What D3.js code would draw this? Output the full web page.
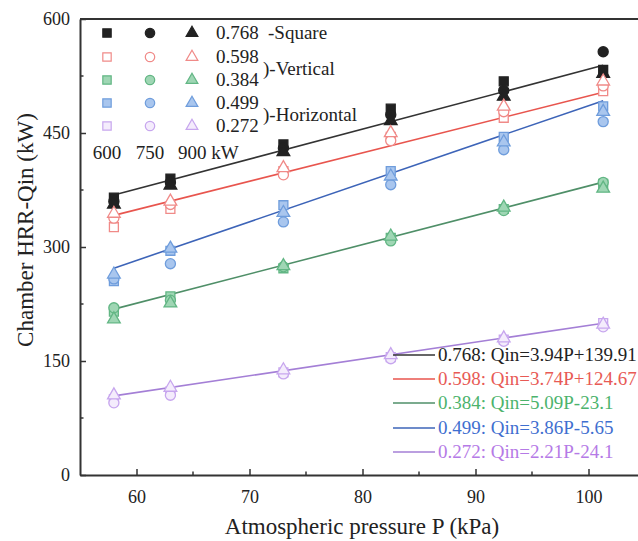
<!DOCTYPE html>
<html>
<head>
<meta charset="utf-8">
<script src="https://cdn.jsdelivr.net/npm/d3@7"></script>
<style>
  body { margin: 0; background: #fff; }
  svg { display: block; }
  text { font-family: "Liberation Serif", "Times New Roman", serif; }
</style>
</head>
<body>
<div id="chart"></div>
<script>
// Atmospheric pressures (kPa) of the six test conditions
var pressures = [58, 63, 73, 82.5, 92.5, 101.3];

// Chamber HRR values (kW) per opening ratio, for the 600 / 750 / 900 kW fires
var q768_600 = [365, 390, 435, 482, 518, 533];
var q768_750 = [360, 385, 430, 474, 506, 557];
var q768_900 = [356, 381, 425, 466, 498, 528];

var q598_600 = [326, 350, 400, 445, 470, 505];
var q598_750 = [338, 356, 395, 440, 478, 512];
var q598_900 = [344, 360, 404, 450, 485, 518];

var q384_600 = [215, 235, 272, 312, 350, 383];
var q384_750 = [220, 230, 274, 308, 348, 385];
var q384_900 = [205, 226, 275, 314, 352, 377];

var q499_600 = [255, 295, 355, 400, 445, 485];
var q499_750 = [258, 278, 333, 382, 428, 465];
var q499_900 = [264, 298, 345, 393, 438, 478];

var q272_600 = [100, 110, 135, 155, 178, 200];
var q272_750 = [95, 105, 133, 153, 176, 195];
var q272_900 = [105, 115, 138, 158, 180, 198];

// fitted lines as drawn (slope, intercept), by series colour
var fitSlope = [3.94, 3.74, 3.86, 5.09, 2.21];
var fitIntercept = [139.91, 124.67, -5.65, -23.1, -24.1];

var ratioLabels = ["0.768", "0.598", "0.384", "0.499", "0.272"];
var fitLabels = ["0.768: Qin=3.94P+139.91", "0.598: Qin=3.74P+124.67",
  "0.384: Qin=5.09P-23.1", "0.499: Qin=3.86P-5.65", "0.272: Qin=2.21P-24.1"];
var powerLabels = ["600", "750", "900 kW"];
var xTicks = [60, 70, 80, 90, 100];
var yTicks = [0, 150, 300, 450, 600];

var seriesData = [
  [q768_600, q768_750, q768_900],
  [q598_600, q598_750, q598_900],
  [q384_600, q384_750, q384_900],
  [q499_600, q499_750, q499_900],
  [q272_600, q272_750, q272_900]
];

// styles
var lineColor = ["#333333", "#e8554e", "#4f8f68", "#3d64b8", "#a47fd6"];
var textColor = ["#222222", "#e85a55", "#4cb36c", "#3f6fd0", "#b57ae6"];
var markFill = ["#222222", "#ffffff", "#9fd6b4", "#a9c6ee", "#f4ecfc"];
var markStroke = ["#222222", "#f08a88", "#62b684", "#6f9ddc", "#c7a6ee"];
var symbols = [d3.symbolSquare, d3.symbolCircle, d3.symbolTriangle];

var W = 638, H = 541;
var svg = d3.select("#chart").append("svg")
  .attr("width", W).attr("height", H)
  .attr("font-family", "Liberation Serif, Times New Roman, serif");

var x = d3.scaleLinear().domain([55, 105]).range([80, 645]);
var y = d3.scaleLinear().domain([0, 600]).range([475, 19]);

// axes, ticks pointing inward
var xAxis = d3.axisBottom(x).tickValues(xTicks).tickSizeInner(-6).tickSizeOuter(0).tickPadding(15);
var yAxis = d3.axisLeft(y).tickValues(yTicks).tickSizeInner(-6).tickSizeOuter(0).tickPadding(10);

var gx = svg.append("g").attr("transform", "translate(0," + y(0) + ")").call(xAxis);
var gy = svg.append("g").attr("transform", "translate(" + x(55) + ",0)").call(yAxis);
[gx, gy].forEach(function (g) {
  g.attr("font-family", null);
  g.select(".domain").attr("stroke", "#333").attr("stroke-width", 2);
  g.selectAll(".tick line").attr("stroke", "#333").attr("stroke-width", 1.5);
  g.selectAll(".tick text").attr("fill", "#222").style("font-size", "18px");
});

// minor ticks
svg.append("g").selectAll("line").data([65, 75, 85, 95]).enter().append("line")
  .attr("x1", function (d) { return x(d); }).attr("x2", function (d) { return x(d); })
  .attr("y1", y(0)).attr("y2", y(0) - 3.5)
  .attr("stroke", "#333").attr("stroke-width", 1.5);
svg.append("g").selectAll("line").data([75, 225, 375, 525]).enter().append("line")
  .attr("x1", x(55)).attr("x2", x(55) + 3.5)
  .attr("y1", function (d) { return y(d); }).attr("y2", function (d) { return y(d); })
  .attr("stroke", "#333").attr("stroke-width", 1.5);

// top frame line
svg.append("line").attr("x1", x(55)).attr("x2", W).attr("y1", y(600)).attr("y2", y(600))
  .attr("stroke", "#333").attr("stroke-width", 2);

// axis titles
svg.append("text").attr("x", 362).attr("y", 534).attr("text-anchor", "middle")
  .style("font-size", "23px").attr("fill", "#222").text("Atmospheric pressure P (kPa)");
svg.append("text").attr("transform", "translate(33,230) rotate(-90)").attr("text-anchor", "middle")
  .style("font-size", "23px").attr("fill", "#222").text("Chamber HRR-Qin (kW)");

// fitted lines
var pMin = d3.min(pressures), pMax = d3.max(pressures);
fitSlope.forEach(function (s, i) {
  var b = fitIntercept[i];
  svg.append("line")
    .attr("x1", x(pMin)).attr("y1", y(s * pMin + b))
    .attr("x2", x(pMax)).attr("y2", y(s * pMax + b))
    .attr("stroke", lineColor[i]).attr("stroke-width", 1.6);
});

// data markers
seriesData.forEach(function (sets, i) {
  sets.forEach(function (vals, k) {
    svg.append("g").selectAll("path").data(vals).enter().append("path")
      .attr("d", d3.symbol().type(symbols[k]).size(k === 2 ? 70 : 80))
      .attr("transform", function (d, j) { return "translate(" + x(pressures[j]) + "," + y(d) + ")"; })
      .attr("fill", markFill[i]).attr("stroke", markStroke[i]).attr("stroke-width", 1.3);
  });
});

// top-left legend of markers
var legCols = [107, 150, 192];
var legRows = [33, 57, 80, 103, 126];
ratioLabels.forEach(function (lab, i) {
  legCols.forEach(function (cx, k) {
    svg.append("path").attr("d", d3.symbol().type(symbols[k]).size(k === 2 ? 60 : 70))
      .attr("transform", "translate(" + cx + "," + legRows[i] + ")")
      .attr("fill", markFill[i]).attr("stroke", markStroke[i]).attr("stroke-width", 1.2);
  });
  svg.append("text").attr("x", 216).attr("y", legRows[i] + 6).style("font-size", "19px")
    .attr("fill", "#222").text(lab);
});
svg.append("text").attr("x", 268).attr("y", legRows[0] + 6).style("font-size", "19px").attr("fill", "#222").text("-Square");
svg.append("text").attr("x", 263).attr("y", 75).style("font-size", "19px").attr("fill", "#222").text(")-Vertical");
svg.append("text").attr("x", 263).attr("y", 121).style("font-size", "19px").attr("fill", "#222").text(")-Horizontal");
svg.selectAll(".plab").data(powerLabels).enter().append("text")
  .attr("x", function (d, k) { return k < 2 ? legCols[k] : legCols[k] - 14; })
  .attr("y", 159).attr("text-anchor", function (d, k) { return k < 2 ? "middle" : "start"; })
  .style("font-size", "19px").attr("fill", "#222").text(function (d) { return d; });

// bottom-right legend of fitted lines
var fitRows = [355, 379, 403, 428, 452];
fitLabels.forEach(function (lab, i) {
  svg.append("line").attr("x1", 393).attr("x2", 435).attr("y1", fitRows[i]).attr("y2", fitRows[i])
    .attr("stroke", lineColor[i]).attr("stroke-width", 1.6);
  svg.append("text").attr("x", 438).attr("y", fitRows[i] + 6).style("font-size", "19px")
    .attr("fill", textColor[i]).text(lab);
});
</script>
</body>
</html>
